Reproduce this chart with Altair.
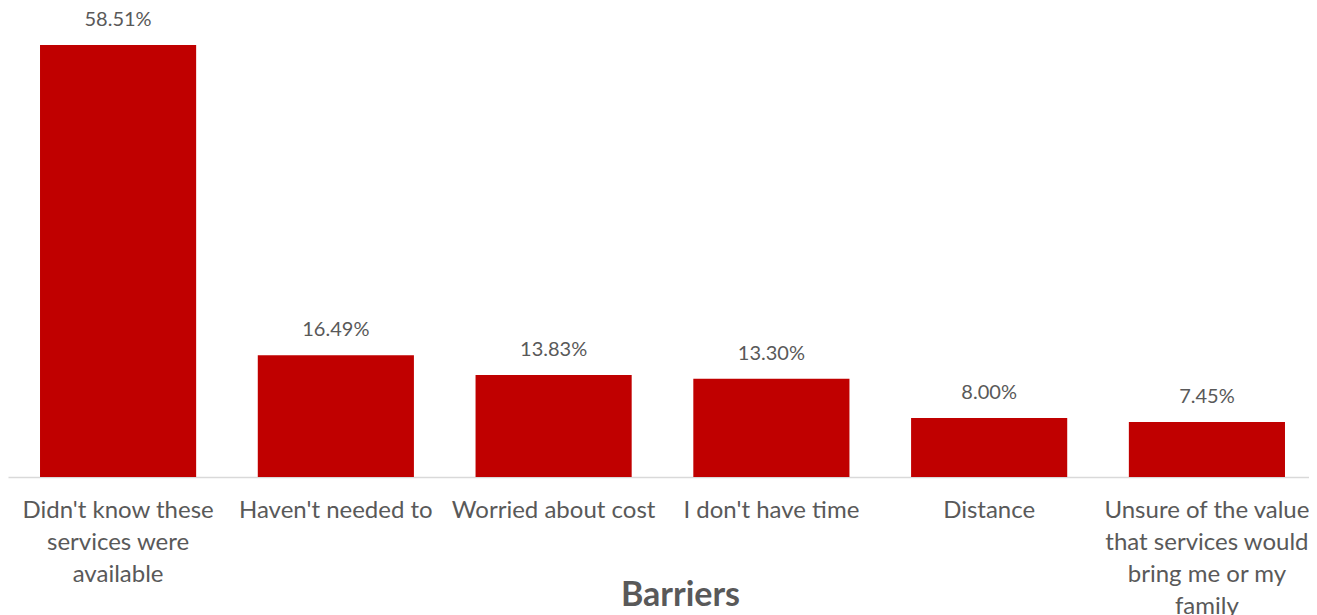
import altair as alt
import pandas as pd

categories = [
    "Didn't know these|services were|available",
    "Haven't needed to",
    "Worried about cost",
    "I don't have time",
    "Distance",
    "Unsure of the value|that services would|bring me or my|family",
]
values = [58.51, 16.49, 13.83, 13.30, 8.00, 7.45]
labels = ["58.51%", "16.49%", "13.83%", "13.30%", "8.00%", "7.45%"]

df = pd.DataFrame({"cat": categories, "val": values, "lab": labels})

FONT = "Lato"
GREY = "#595959"

x = alt.X(
    "cat:N",
    sort=None,
    scale=alt.Scale(paddingInner=0.283, paddingOuter=0.147, round=False, range=[0, 1309]),
    axis=alt.Axis(
        title="Barriers",
        labelAngle=0,
        labelExpr="split(datum.label, '|')",
        labelFont=FONT,
        labelFontSize=24,
        labelColor=GREY,
        labelLineHeight=32,
        labelPadding=21,
        labelLimit=400,
        ticks=False,
        domainColor="#D9D9D9",
        domainWidth=1.5,
        titleFont=FONT,
        titleFontSize=34,
        titleFontWeight="bold",
        titleColor=GREY,
        titleX=672,
        titleY=118,
        titleAlign="center",
        titleBaseline="middle",
    ),
)
y = alt.Y("val:Q", scale=alt.Scale(domain=[0, 60], nice=False), axis=None)

bars = alt.Chart(df).mark_bar(color="#C00000").encode(x=x, y=y)
text = alt.Chart(df).mark_text(
    baseline="bottom", dy=-15, font=FONT, fontSize=20, color=GREY
).encode(x=alt.X("cat:N", sort=None), y=y, text="lab:N")

chart = (
    alt.layer(bars, text)
    .properties(
        width=1301,
        height=443,
        autosize=alt.AutoSizeParams(type="none"),
        padding={"left": 0, "top": 26, "right": 0, "bottom": 150},
    )
    .configure_view(stroke=None)
)

chart.save("out.html", embed_options={"renderer": "svg", "actions": False})
